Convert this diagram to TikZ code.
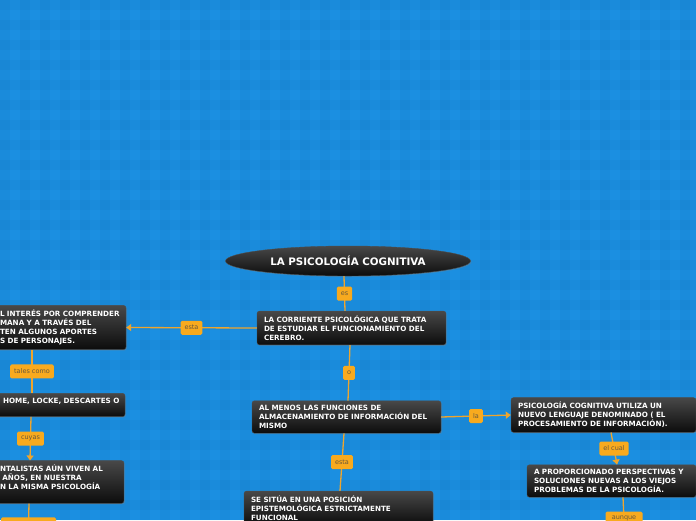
\documentclass[tikz,border=0pt]{standalone}
\usepackage{fontspec}
\setmainfont{DejaVu Sans}
\usepackage{tikz}
\usetikzlibrary{
	arrows.meta,
	positioning,
	shapes.geometric,
	shadows
}
\usepackage{xcolor}
\definecolor{mapblue}{RGB}{27,143,225}
\definecolor{linkorange}{RGB}{238,165,45}
\definecolor{tagorange}{RGB}{248,170,30}
\definecolor{tagtext}{RGB}{105,88,60}
\definecolor{boxtop}{RGB}{72,72,72}
\definecolor{boxbot}{RGB}{12,12,12}

\tikzset{
	idea/.style={rectangle, rounded corners=2.5pt, top color=boxtop, bottom color=boxbot,
		draw=black!70, line width=0.4pt, text=white, align=left,
		font=\fontsize{7.2}{9}\selectfont\bfseries, inner xsep=7pt, inner ysep=4.5pt,
		drop shadow={opacity=0.3, shadow xshift=1pt, shadow yshift=-1pt}},
	topic/.style={ellipse, top color=boxtop, bottom color=boxbot, draw=black!70,
		text=white, font=\fontsize{10.3}{11}\selectfont\bfseries,
		minimum width=245pt, minimum height=30pt, inner sep=0pt,
		drop shadow={opacity=0.3, shadow xshift=1pt, shadow yshift=-1pt}},
	tag/.style={rectangle, rounded corners=1.5pt, fill=tagorange, text=tagtext,
		font=\fontsize{6.5}{7}\selectfont, inner xsep=4pt, inner ysep=0pt,
		minimum height=14pt},
	link/.style={draw=linkorange, line width=1.3pt},
	arrowed/.style={-{Triangle[width=7pt,length=5pt]}}
}

\begin{document}
\begin{tikzpicture}[x=1pt,y=-1pt]
		
		% Background
		\path[use as bounding box] (0,0) rectangle (696,520);
		\clip (0,0) rectangle (696,520);
		\fill[mapblue] (0,0) rectangle (696,520);
		\foreach \k in {0,20,...,700} {
			\fill[black,opacity=0.022] (\k,0) rectangle ++(10,520);
			\fill[black,opacity=0.022] (0,\k) rectangle ++(696,10);
		}
		
		% Central topic
		\node[topic] (title) at (348,261) {LA PSICOLOGÍA COGNITIVA};
		
		% Middle column
		\node[idea, text width=175pt] (corr) at (351.5,328)
		{LA CORRIENTE PSICOLÓGICA QUE TRATA\\DE ESTUDIAR EL FUNCIONAMIENTO DEL\\CEREBRO.};
		\node[idea, text width=175pt] (memo) at (346.5,417)
		{AL MENOS LAS FUNCIONES DE\\ALMACENAMIENTO DE INFORMACIÓN DEL\\MISMO};
		\node[idea, text width=175pt] (situa) at (338.5,508)
		{SE SITÚA EN UNA POSICIÓN\\EPISTEMOLÓGICA ESTRICTAMENTE\\FUNCIONAL};
		
		% Left column (cut by the left edge)
		\node[idea, text width=119pt] (interes) at (59.5,327.5)
		{\mbox{L INTERÉS POR COMPRENDER}\\\mbox{MANA Y A TRAVÉS DEL}\\\mbox{TEN ALGUNOS APORTES}\\\mbox{S DE PERSONAJES.}};
		\node[idea, text width=115pt] (autores) at (60.5,405)
		{\mbox{HOME, LOCKE, DESCARTES O}\\~};
		\node[idea, text width=117pt] (mental) at (58.5,482)
		{\mbox{NTALISTAS AÚN VIVEN AL}\\\mbox{ AÑOS, EN NUESTRA}\\\mbox{N LA MISMA PSICOLOGÍA}\\~};
		
		% Right column
		\node[idea, text width=171pt] (proc) at (603.5,415)
		{PSICOLOGÍA COGNITIVA UTILIZA UN\\NUEVO LENGUAJE DENOMINADO ( EL\\PROCESAMIENTO DE INFORMACIÓN).};
		\node[idea, text width=155pt] (persp) at (611.5,481)
		{\mbox{A PROPORCIONADO PERSPECTIVAS Y}\\SOLUCIONES NUEVAS A LOS VIEJOS\\PROBLEMAS DE LA PSICOLOGÍA.};
		
		% Free ends below the picture
		\coordinate (leftend) at (28,545);
		\coordinate (rightend) at (625,540);
		
		% Connectors
		\draw[link] ([xshift=-4pt]title.south) -- node[tag] (es) {es} ([xshift=-6.5pt]corr.north);
		\draw[link,arrowed] (corr.west) -- node[tag] (esta1) {esta} (interes.east);
		\draw[link] ([xshift=-27.5pt]interes.south) -- node[tag] (tales) {tales como} ([xshift=-28.5pt]autores.north);
		\draw[link,arrowed] ([xshift=-29.5pt]autores.south) -- node[tag] (cuyas) {cuyas} ([xshift=-28.5pt]mental.north);
		\draw[link] ([xshift=-29.5pt]mental.south) -- node[tag, minimum width=55pt] (lefttag) {} (leftend);
		\draw[link] ([xshift=-1.5pt]corr.south) -- node[tag] (o) {o} ([xshift=1.5pt]memo.north);
		\draw[link,arrowed] (memo.east) -- node[tag] (la) {la} (proc.west);
		\draw[link,arrowed] ([xshift=7.5pt]proc.south) -- node[tag] (cual) {el cual} ([xshift=5.5pt]persp.north);
		\draw[link] ([xshift=11.5pt]persp.south) -- node[tag, minimum width=37pt] (aunque) {aunque} (rightend);
		\draw[link] ([xshift=-2.5pt]memo.south) -- node[tag] (esta2) {esta} ([xshift=1.5pt]situa.north);
		
	\end{tikzpicture}
\end{document}
